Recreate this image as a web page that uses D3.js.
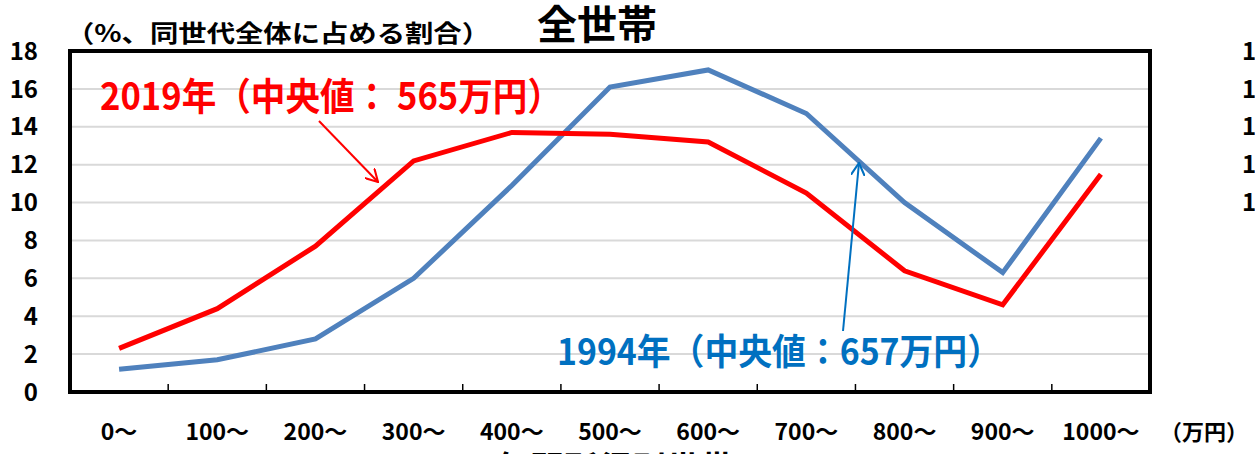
<!DOCTYPE html>
<html>
<head>
<meta charset="utf-8">
<script src="https://cdn.jsdelivr.net/npm/d3@7"></script>
<style>
  body { margin: 0; background: #fff; }
  text { font-family: "Noto Sans CJK JP", "Noto Sans", sans-serif; }
</style>
</head>
<body>
<svg width="1255" height="454"></svg>
<script>
const categories = ["0～", "100～", "200～", "300～", "400～", "500～", "600～", "700～", "800～", "900～", "1000～"];
const values2019 = [2.3, 4.4, 7.7, 12.2, 13.7, 13.6, 13.2, 10.5, 6.4, 4.6, 11.5];
const values1994 = [1.2, 1.7, 2.8, 6.0, 10.9, 16.1, 17.0, 14.7, 10.0, 6.3, 13.4];
const yTicks = [0, 2, 4, 6, 8, 10, 12, 14, 16, 18];
const rightTicks = [18, 16, 14, 12, 10];

const svg = d3.select("svg");
const margins = {top: 51, right: 105, bottom: 62, left: 70};
const width = 1255 - margins.left - margins.right;
const height = 454 - margins.top - margins.bottom;

const x = d3.scaleBand().domain(categories).range([margins.left, margins.left + width]);
const y = d3.scaleLinear().domain([0, 18]).range([margins.top + height, margins.top]);

// grid
svg.append("g")
    .selectAll("line")
    .data(yTicks.slice(1, -1))
    .join("line")
    .attr("x1", margins.left).attr("x2", margins.left + width)
    .attr("y1", d => y(d)).attr("y2", d => y(d))
    .attr("stroke", "#d9d9d9")
    .attr("stroke-width", 2);

// tick marks between categories
svg.append("g")
    .selectAll("line")
    .data(categories.slice(1))
    .join("line")
    .attr("x1", d => x(d)).attr("x2", d => x(d))
    .attr("y1", y(0)).attr("y2", y(0) - 8)
    .attr("stroke", "#000")
    .attr("stroke-width", 1.5);

// y labels
svg.append("g")
    .selectAll("text")
    .data(yTicks)
    .join("text")
    .attr("x", 38)
    .attr("y", d => y(d))
    .attr("dy", "0.36em")
    .attr("text-anchor", "end")
    .attr("font-size", 24)
    .attr("font-weight", "bold")
    .text(d => d);

// labels of the neighbouring chart, cut off by the right edge
svg.append("g")
    .selectAll("text")
    .data(rightTicks)
    .join("text")
    .attr("x", 1242)
    .attr("y", d => y(d))
    .attr("dy", "0.36em")
    .attr("font-size", 24)
    .attr("font-weight", "bold")
    .text(d => String(d));

// x labels
svg.append("g")
    .selectAll("text")
    .data(categories)
    .join("text")
    .attr("x", d => x(d) + x.bandwidth() / 2)
    .attr("y", 432)
    .attr("dy", "0.36em")
    .attr("text-anchor", "middle")
    .attr("font-size", 23)
    .attr("font-weight", "bold")
    .text(d => d);

svg.append("text")
    .attr("x", 1160).attr("y", 432).attr("dy", "0.36em")
    .attr("font-size", 22).attr("font-weight", "bold")
    .text("（万円）");

// axis title, mostly cut off at the bottom
svg.append("text")
    .attr("x", 615).attr("y", 481)
    .attr("text-anchor", "middle")
    .attr("font-size", 34).attr("font-weight", "bold")
    .text("年間所得別世帯");

const line = d3.line()
    .x((d, i) => x(categories[i]) + x.bandwidth() / 2)
    .y(d => y(d));

svg.append("path")
    .datum(values1994)
    .attr("d", line)
    .attr("fill", "none")
    .attr("stroke", "#4F81BD")
    .attr("stroke-width", 5);

svg.append("path")
    .datum(values2019)
    .attr("d", line)
    .attr("fill", "none")
    .attr("stroke", "#FF0000")
    .attr("stroke-width", 5);

// frame
svg.append("rect")
    .attr("x", margins.left).attr("y", margins.top)
    .attr("width", width).attr("height", height)
    .attr("fill", "none")
    .attr("stroke", "#000")
    .attr("stroke-width", 4);

// titles
svg.append("text")
    .attr("x", 66).attr("y", 33).attr("dy", "0.36em")
    .attr("font-size", 24).attr("font-weight", "bold")
    .attr("textLength", 424).attr("lengthAdjust", "spacingAndGlyphs")
    .text("（%、同世代全体に占める割合）");

svg.append("text")
    .attr("x", 597).attr("y", 25).attr("dy", "0.36em")
    .attr("text-anchor", "middle")
    .attr("font-size", 40).attr("font-weight", "bold")
    .text("全世帯");

// annotations
const defs = svg.append("defs");
function arrowHead(id, color) {
    defs.append("marker")
        .attr("id", id)
        .attr("viewBox", "0 0 10 10")
        .attr("refX", 9).attr("refY", 5)
        .attr("markerWidth", 14).attr("markerHeight", 14)
        .attr("markerUnits", "userSpaceOnUse")
        .attr("orient", "auto")
        .append("path")
        .attr("d", "M0,0 L9,5 L0,10")
        .attr("fill", "none")
        .attr("stroke", color)
        .attr("stroke-width", 1.5);
}
arrowHead("arrRed", "#FF0000");
arrowHead("arrBlue", "#0070C0");

svg.append("line")
    .attr("x1", 319).attr("y1", 121).attr("x2", 378).attr("y2", 182)
    .attr("stroke", "#FF0000").attr("stroke-width", 2)
    .attr("marker-end", "url(#arrRed)");

svg.append("line")
    .attr("x1", 843).attr("y1", 331).attr("x2", 859).attr("y2", 163)
    .attr("stroke", "#0070C0").attr("stroke-width", 2)
    .attr("marker-end", "url(#arrBlue)");

svg.append("text")
    .attr("x", 100).attr("y", 96).attr("dy", "0.36em")
    .attr("font-size", 38).attr("font-weight", "bold")
    .attr("fill", "#FF0000")
    .attr("textLength", 462).attr("lengthAdjust", "spacingAndGlyphs")
    .text("2019年（中央値： 565万円）");

svg.append("text")
    .attr("x", 557).attr("y", 352).attr("dy", "0.36em")
    .attr("font-size", 36).attr("font-weight", "bold")
    .attr("fill", "#0070C0")
    .attr("textLength", 444).attr("lengthAdjust", "spacingAndGlyphs")
    .text("1994年（中央値：657万円）");
</script>
</body>
</html>
